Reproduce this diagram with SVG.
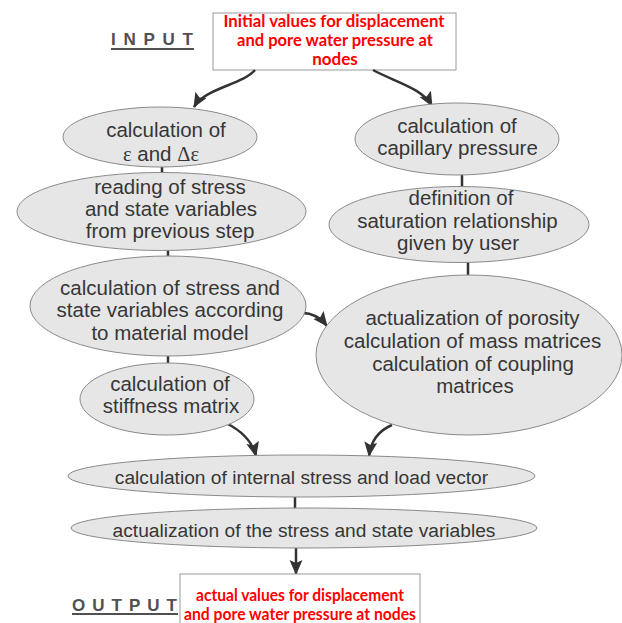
<svg xmlns="http://www.w3.org/2000/svg" width="622" height="623" viewBox="0 0 622 623">
<defs>
<style>
.n{fill:#e6e6e6;stroke:#8a8a8a;stroke-width:1}
.t{font-family:"Liberation Sans",Arial,sans-serif;font-size:20.5px;fill:#363636;text-anchor:middle}
.s{font-size:19.2px}
.g{font-family:"Liberation Serif","Times New Roman",serif}
.r{font-family:Lato,"Open Sans",sans-serif;font-weight:700;font-size:17px;fill:#ff0000;text-anchor:middle}
.box{fill:#ffffff;stroke:#9a9a9a;stroke-width:1}
.lbl{font-family:"Liberation Sans",Arial,sans-serif;font-weight:700;font-size:17px;fill:#505050}
.ul{stroke:#505050;stroke-width:2}
.c{fill:none;stroke:#333;stroke-width:2.5}
.a{fill:none;stroke:#333;stroke-width:2.5;marker-end:url(#ah)}
</style>
<marker id="ah" markerUnits="userSpaceOnUse" markerWidth="17" markerHeight="15" refX="14" refY="6.5" orient="auto">
<path d="M0,0 L15,6.5 L0,13 L3,6.5 z" fill="#333"/>
</marker>
</defs>
<rect width="622" height="623" fill="#ffffff"/>

<g id="input-label">
<text class="lbl" x="111" y="45" textLength="82" lengthAdjust="spacing">INPUT</text>
<line class="ul" x1="111" y1="49" x2="194" y2="49"/>
</g>
<g id="input">
<rect class="box" x="213" y="13" width="243" height="57"/>
<text class="r" x="334" y="27" textLength="221" lengthAdjust="spacingAndGlyphs">Initial values for displacement</text>
<text class="r" x="335" y="46" textLength="196" lengthAdjust="spacingAndGlyphs">and pore water pressure at</text>
<text class="r" x="335" y="65">nodes</text>
</g>

<g id="connectors">
<path class="a" d="M255,70 C242,85 205,88 194,107"/>
<path class="a" d="M373,70 C395,82 422,88 432,106"/>
<line class="c" x1="162" y1="166" x2="162" y2="174"/>
<line class="c" x1="168" y1="250" x2="168" y2="258"/>
<line class="c" x1="168" y1="356" x2="168" y2="364"/>
<line class="c" x1="462" y1="174" x2="462" y2="188"/>
<line class="c" x1="468" y1="261" x2="468" y2="276"/>
<path class="a" d="M302,313 C312,313 320,317 327,326"/>
<path class="a" d="M226,423 C240,430 252,440 256,456"/>
<path class="a" d="M392,425 C380,430 371,440 369,456"/>
<line class="c" x1="295" y1="497" x2="295" y2="509"/>
<path class="a" d="M296,548 L296,574"/>
</g>

<g id="strain">
<ellipse class="n" cx="160" cy="137" rx="97" ry="30"/>
<text class="t" x="166" y="137">calculation of</text>
<text class="t" x="161" y="161"><tspan class="g">ε</tspan> and <tspan class="g">Δε</tspan></text>
</g>
<g id="reading">
<ellipse class="n" cx="161.5" cy="211.5" rx="144.5" ry="39"/>
<text class="t" x="170" y="194">reading of stress</text>
<text class="t" x="171" y="216">and state variables</text>
<text class="t" x="170" y="238">from previous step</text>
</g>
<g id="material">
<ellipse class="n" cx="168" cy="306" rx="138" ry="50"/>
<text class="t" x="170" y="295">calculation of stress and</text>
<text class="t" x="170" y="317">state variables according</text>
<text class="t" x="170" y="340">to material model</text>
</g>
<g id="stiffness">
<ellipse class="n" cx="167" cy="399" rx="87" ry="36"/>
<text class="t" x="170" y="391">calculation of</text>
<text class="t" x="171" y="413">stiffness matrix</text>
</g>
<g id="capillary">
<ellipse class="n" cx="457" cy="139" rx="102" ry="36"/>
<text class="t" x="457" y="133">calculation of</text>
<text class="t" x="457.5" y="155">capillary pressure</text>
</g>
<g id="saturation">
<ellipse class="n" cx="459" cy="224.5" rx="130" ry="38"/>
<text class="t" x="461" y="205">definition of</text>
<text class="t" x="457.5" y="228">saturation relationship</text>
<text class="t" x="458" y="250">given by user</text>
</g>
<g id="porosity">
<ellipse class="n" cx="469" cy="355" rx="153" ry="80"/>
<text class="t" x="472.5" y="325">actualization of porosity</text>
<text class="t" x="472.5" y="348">calculation of mass matrices</text>
<text class="t" x="473" y="371">calculation of coupling</text>
<text class="t" x="475" y="393">matrices</text>
</g>
<g id="internal">
<ellipse class="n" cx="301.5" cy="476" rx="233.5" ry="21"/>
<text class="t s" x="301.5" y="484">calculation of internal stress and load vector</text>
</g>
<g id="update">
<ellipse class="n" cx="304" cy="528" rx="233" ry="20"/>
<text class="t s" x="304" y="537">actualization of the stress and state variables</text>
</g>

<g id="output-label">
<text class="lbl" x="72" y="611" textLength="105" lengthAdjust="spacing">OUTPUT</text>
<line class="ul" x1="72" y1="614" x2="178" y2="614"/>
</g>
<g id="output">
<rect class="box" x="180" y="574" width="240" height="60"/>
<text class="r" x="300" y="601" textLength="208" lengthAdjust="spacingAndGlyphs">actual values for displacement</text>
<text class="r" x="300" y="620" textLength="232" lengthAdjust="spacingAndGlyphs">and pore water pressure at nodes</text>
</g>
</svg>
